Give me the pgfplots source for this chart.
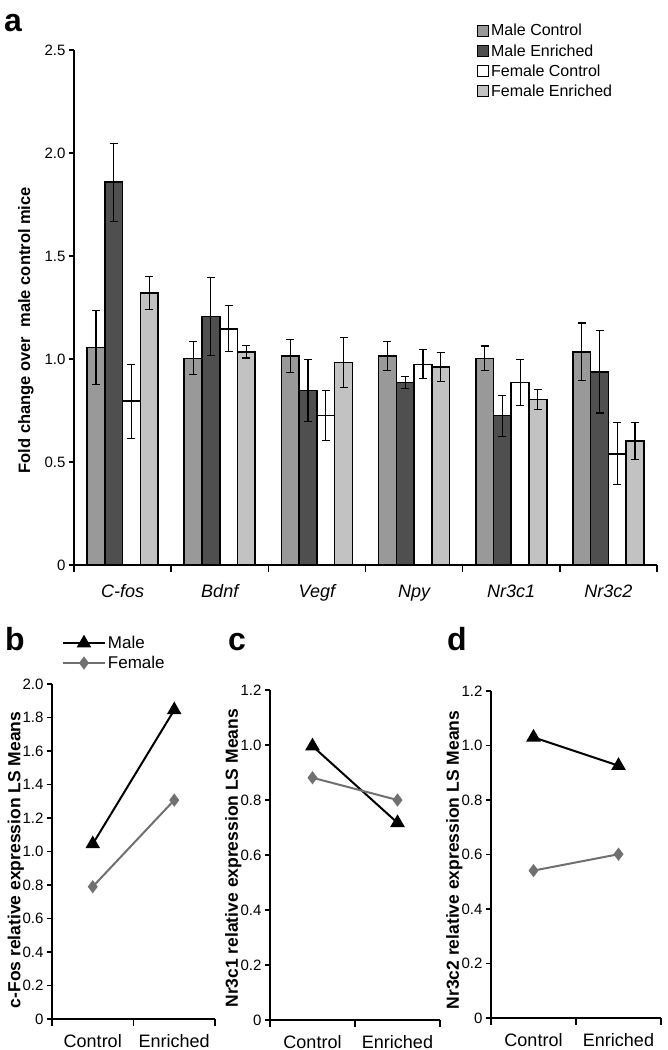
\documentclass[border=0pt]{standalone}
\usepackage{fontspec}
\setmainfont{Liberation Sans}
\usepackage{pgfplots}
\pgfplotsset{compat=1.18}

\definecolor{mc}{HTML}{999999}
\definecolor{me}{HTML}{4F4F4F}
\definecolor{fe}{HTML}{C2C2C2}
\definecolor{fgray}{HTML}{707070}

\newcommand{\fs}[1]{\fontsize{#1}{#1}\selectfont}

\pgfplotsset{
  myaxis/.style={
    scale only axis,
    axis x line=bottom, axis y line=left,
    axis line style={line width=1.8pt,-},
    tick align=outside,
    every tick/.style={black, line width=1.5pt},
    /pgf/number format/assume math mode=true,
    clip=false,
    major tick length=5pt,
    minor tick length=7pt,
    major x tick style={draw=none},
  },
  errstyle/.style={error bars/.cd, y dir=both, y explicit,
    error bar style={line width=1.1pt, black},
    error mark options={rotate=90, mark size=4pt, line width=1.1pt, black}},
}

\begin{document}
\begin{tikzpicture}[x=1pt,y=1pt]
\useasboundingbox (0,0) rectangle (667,-1050);

\node[anchor=base west, inner sep=0, font=\fs{32}\bfseries] at (4pt,-31pt) {a};
\node[anchor=base west, inner sep=0, font=\fs{32}\bfseries] at (5pt,-650pt) {b};
\node[anchor=base west, inner sep=0, font=\fs{32}\bfseries] at (228pt,-650pt) {c};
\node[anchor=base west, inner sep=0, font=\fs{32}\bfseries] at (447pt,-650pt) {d};

% Panel a
\begin{axis}[myaxis, at={(74pt,-565pt)}, anchor=south west,
  width=583pt, height=515pt,
  xmin=-0.5, xmax=5.5, ymin=0, ymax=2.5,
  ybar=0pt, bar width=17.75pt,
  xtick={0,...,5}, xticklabels={C-fos,Bdnf,Vegf,Npy,Nr3c1,Nr3c2},
  xticklabel style={font=\fs{18}\itshape, anchor=base, yshift=-27pt},
  minor xtick={-0.5,0.5,...,5.5},
  ytick={0,0.5,1,1.5,2,2.5}, yticklabels={0,0.5,1.0,1.5,2.0,2.5},
  yticklabel style={font=\fs{15}},
  ylabel={Fold change over\ \ male control mice},
  ylabel style={font=\fs{16.5}\bfseries, at={(axis description cs:-0.0823,0.456)}, anchor=center},
  legend image code/.code={\draw[#1, line width=1.1pt] (0pt,-5.5pt) rectangle (11pt,5.5pt);},
  legend style={draw=none, fill=none, at={(axis description cs:0.691,1.054)}, anchor=north west,
    font=\fs{16}, row sep=3pt, inner sep=0pt, cells={anchor=west}},
]
\addplot[fill=mc, draw=black, line width=1.6pt, errstyle] coordinates {
 (0,1.055) +- (0,0.18) (1,1.003) +- (0,0.08) (2,1.014) +- (0,0.08)
 (3,1.014) +- (0,0.07) (4,1.003) +- (0,0.06) (5,1.035) +- (0,0.14)};
\addplot[fill=me, draw=black, line width=1.6pt, errstyle] coordinates {
 (0,1.858) +- (0,0.19) (1,1.206) +- (0,0.19) (2,0.847) +- (0,0.15)
 (3,0.885) +- (0,0.03) (4,0.725) +- (0,0.10) (5,0.938) +- (0,0.20)};
\addplot[fill=white, draw=black, line width=1.6pt, errstyle] coordinates {
 (0,0.795) +- (0,0.18) (1,1.147) +- (0,0.112) (2,0.725) +- (0,0.12)
 (3,0.974) +- (0,0.07) (4,0.886) +- (0,0.11) (5,0.540) +- (0,0.15)};
\addplot[fill=fe, draw=black, line width=1.6pt, errstyle] coordinates {
 (0,1.321) +- (0,0.08) (1,1.035) +- (0,0.03) (2,0.983) +- (0,0.12)
 (3,0.962) +- (0,0.07) (4,0.803) +- (0,0.05) (5,0.602) +- (0,0.09)};
\legend{Male Control,Male Enriched,Female Control,Female Enriched}
\end{axis}

% Panel b
\begin{axis}[myaxis, at={(52pt,-1019pt)}, anchor=south west,
  width=163pt, height=335pt,
  xmin=-0.5, xmax=1.5, ymin=0, ymax=2,
  xtick={0,1}, xticklabels={Control,Enriched},
  xticklabel style={font=\fs{18}, anchor=base, yshift=-23pt},
  minor xtick={-0.5,0.5,1.5},
  ytick={0,0.2,0.4,0.6,0.8,1.0,1.2,1.4,1.6,1.8,2.0},
  yticklabels={0,0.2,0.4,0.6,0.8,1.0,1.2,1.4,1.6,1.8,2.0},
  yticklabel style={font=\fs{15}},
  ylabel={c-Fos relative expression LS Means},
  ylabel style={font=\fs{17.5}\bfseries, at={(axis description cs:-0.222,0.475)}, anchor=center},
  legend image code/.code={\draw[mark repeat=2,mark phase=2,#1] plot coordinates {(0pt,0pt) (21pt,0pt) (42pt,0pt)};},
  legend style={draw=none, fill=none, at={(axis description cs:0.06,1.149)}, anchor=north west,
    font=\fs{17}, row sep=2pt, inner sep=0pt, cells={anchor=west}},
]
\addplot[black, line width=2pt, mark=triangle*, mark size=6.5pt] coordinates {(0,1.045) (1,1.845)};
\addplot[fgray, line width=2pt, mark=diamond*, mark size=5pt] coordinates {(0,0.79) (1,1.307)};
\legend{Male,Female}
\end{axis}

% Panel c
\begin{axis}[myaxis, at={(270pt,-1020pt)}, anchor=south west,
  width=170pt, height=330pt,
  xmin=-0.5, xmax=1.5, ymin=0, ymax=1.2,
  xtick={0,1}, xticklabels={Control,Enriched},
  xticklabel style={font=\fs{18}, anchor=base, yshift=-23pt},
  minor xtick={-0.5,0.5,1.5},
  ytick={0,0.2,0.4,0.6,0.8,1.0,1.2},
  yticklabels={0,0.2,0.4,0.6,0.8,1.0,1.2},
  yticklabel style={font=\fs{15}},
  ylabel={Nr3c1 relative expression LS Means},
  ylabel style={font=\fs{17.5}\bfseries, at={(axis description cs:-0.215,0.49)}, anchor=center},
]
\addplot[black, line width=2pt, mark=triangle*, mark size=6.5pt] coordinates {(0,0.996) (1,0.717)};
\addplot[fgray, line width=2pt, mark=diamond*, mark size=5pt] coordinates {(0,0.881) (1,0.80)};
\end{axis}

% Panel d
\begin{axis}[myaxis, at={(491pt,-1018pt)}, anchor=south west,
  width=170pt, height=327pt,
  xmin=-0.5, xmax=1.5, ymin=0, ymax=1.2,
  xtick={0,1}, xticklabels={Control,Enriched},
  xticklabel style={font=\fs{18}, anchor=base, yshift=-23pt},
  minor xtick={-0.5,0.5,1.5},
  ytick={0,0.2,0.4,0.6,0.8,1.0,1.2},
  yticklabels={0,0.2,0.4,0.6,0.8,1.0,1.2},
  yticklabel style={font=\fs{15}},
  ylabel={Nr3c2 relative expression LS Means},
  ylabel style={font=\fs{17.5}\bfseries, at={(axis description cs:-0.215,0.483)}, anchor=center},
]
\addplot[black, line width=2pt, mark=triangle*, mark size=6.5pt] coordinates {(0,1.03) (1,0.926)};
\addplot[fgray, line width=2pt, mark=diamond*, mark size=5pt] coordinates {(0,0.541) (1,0.601)};
\end{axis}
\end{tikzpicture}
\end{document}
